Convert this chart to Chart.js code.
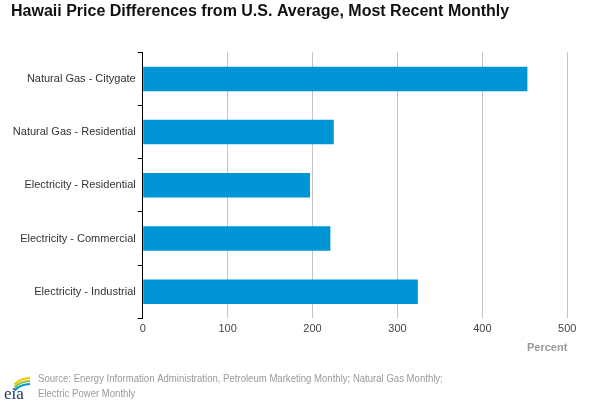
<!DOCTYPE html>
<html>
<head>
<meta charset="utf-8">
<script src="https://cdn.jsdelivr.net/npm/chart.js@4.4.0/dist/chart.umd.min.js"></script>
<style>
html,body{margin:0;padding:0;background:#fff;}
#wrap{width:608px;height:405px;position:relative;}
</style>
</head>
<body>
<div id="wrap"><canvas id="c" width="608" height="405"></canvas></div>
<script>
const categories = ["Natural Gas - Citygate", "Natural Gas - Residential", "Electricity - Residential", "Electricity - Commercial", "Electricity - Industrial"];
const values = [453, 225, 197, 221, 324];
const xTicks = [0, 100, 200, 300, 400, 500];
const titleText = "Hawaii Price Differences from U.S. Average, Most Recent Monthly";
const axisTitle = "Percent";
const sourceLines = ["Source: Energy Information Administration, Petroleum Marketing Monthly; Natural Gas Monthly;", "Electric Power Monthly"];

const FONT = "'Liberation Sans', Arial, sans-serif";

const decor = {
  id: 'decor',
  afterDraw(chart) {
    const ctx = chart.ctx;
    ctx.save();
    ctx.fillStyle = '#111';
    ctx.font = 'bold 16px ' + FONT;
    ctx.textBaseline = 'alphabetic';
    ctx.textAlign = 'left';
    ctx.fillText(titleText, 11, 16);
    // source (slightly condensed to match the original rendering)
    ctx.save();
    ctx.fillStyle = '#9a9a9a';
    ctx.font = '11px ' + FONT;
    ctx.textBaseline = 'middle';
    ctx.translate(38, 0);
    ctx.scale(0.87, 1);
    ctx.fillText(sourceLines[0], 0, 379);
    ctx.fillText(sourceLines[1], 0, 394);
    ctx.restore();
    // logo arcs
    const arcs = [['#f5c400', 0], ['#8cc63f', 3], ['#0096d6', 6]];
    ctx.lineWidth = 2.2;
    arcs.forEach(([col, d]) => {
      ctx.strokeStyle = col;
      ctx.beginPath();
      ctx.arc(30, 400 + d, 22, Math.PI * 1.25, Math.PI * 1.5);
      ctx.stroke();
    });
    ctx.fillStyle = '#1a3a6e';
    ctx.font = '17px "Liberation Serif", "DejaVu Serif", serif';
    ctx.textBaseline = 'alphabetic';
    ctx.fillText('eia', 4, 399);
    ctx.restore();
  }
};

new Chart(document.getElementById('c'), {
  type: 'bar',
  data: {
    labels: categories,
    datasets: [{
      data: values,
      backgroundColor: '#0096d6',
      borderWidth: 0,
      barPercentage: 0.92,
      categoryPercentage: 0.5
    }]
  },
  options: {
    indexAxis: 'y',
    responsive: false,
    animation: false,
    devicePixelRatio: 1,
    layout: { padding: { top: 52.3, right: 40.7, bottom: 50.3, left: 0 } },
    plugins: { legend: { display: false }, tooltip: { enabled: false }, title: { display: false } },
    scales: {
      x: {
        min: 0, max: 500,
        afterBuildTicks(scale) { scale.ticks = xTicks.map(v => ({ value: v })); },
        grid: { color: '#c4c4c4', lineWidth: 1, drawTicks: false },
        border: { display: false },
        ticks: { padding: 4, color: '#444', font: { family: FONT, size: 11 } },
        title: { display: true, text: axisTitle, align: 'end', color: '#999', font: { family: FONT, size: 11, weight: 'bold' }, padding: { top: 2, bottom: 0 } }
      },
      y: {
        afterFit(scale) { scale.width = 142.7; },
        grid: { display: true, drawOnChartArea: false, offset: true, color: '#000', tickLength: 5, lineWidth: 1 },
        border: { display: true, color: '#000', width: 1 },
        ticks: { padding: 2, color: '#333', font: { family: FONT, size: 11 } }
      }
    }
  },
  plugins: [decor]
});
</script>
</body>
</html>
